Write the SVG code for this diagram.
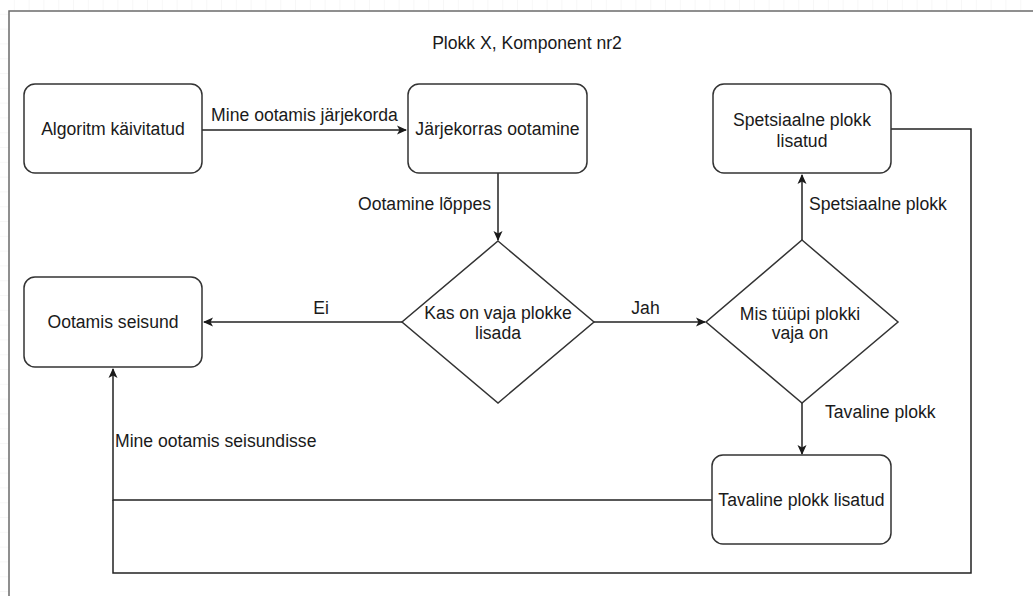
<svg xmlns="http://www.w3.org/2000/svg" width="1033" height="596" viewBox="0 0 1033 596">
<defs>
<pattern id="grid" width="14.8" height="14.8" patternUnits="userSpaceOnUse">
<path d="M14.8 0V14.8H0" fill="none" stroke="#efefef" stroke-width="1"/>
</pattern>
<marker id="arr" viewBox="0 0 10 10" refX="9" refY="5" markerWidth="10" markerHeight="10" markerUnits="userSpaceOnUse" orient="auto">
<path d="M0 0.5L10 5L0 9.5L2.5 5Z" fill="#1a1a1a"/>
</marker>
</defs>
<style>
.node{fill:#fff;stroke:#333;stroke-width:1.5}
.edge{fill:none;stroke:#222;stroke-width:1.5}
text{font-family:"Liberation Sans",Arial,sans-serif;font-size:17.6px;fill:#1a1a1a}
.c{text-anchor:middle}
</style>
<rect width="1033" height="596" fill="#fff"/>
<rect width="1033" height="596" fill="url(#grid)"/>
<rect x="9" y="11" width="1040" height="600" fill="#fff" stroke="#6b6b6b" stroke-width="1.5"/>
<text id="title" class="c" x="527" y="49">Plokk X, Komponent nr2</text>
<g id="connectors">
<path class="edge" d="M202 130H406" marker-end="url(#arr)"/>
<path class="edge" d="M498 173V240" marker-end="url(#arr)"/>
<path class="edge" d="M402 322H204" marker-end="url(#arr)"/>
<path class="edge" d="M594 322H705" marker-end="url(#arr)"/>
<path class="edge" d="M802 240V175" marker-end="url(#arr)"/>
<path class="edge" d="M802 403V454" marker-end="url(#arr)"/>
<path class="edge" d="M712 500H113V369" marker-end="url(#arr)"/>
<path class="edge" d="M891 129H971V573H113V500"/>
<text x="304.5" y="121" class="c">Mine ootamis järjekorda</text>
<text x="424.5" y="210" class="c">Ootamine lõppes</text>
<text x="321" y="314" class="c">Ei</text>
<text x="645.5" y="314" class="c">Jah</text>
<text x="809" y="210">Spetsiaalne plokk</text>
<text x="825" y="418">Tavaline plokk</text>
<text x="115" y="447">Mine ootamis seisundisse</text>
</g>
<g id="n1"><rect class="node" x="24" y="84" width="178" height="89" rx="11"/><text class="c" x="113" y="135">Algoritm käivitatud</text></g>
<g id="n2"><rect class="node" x="408" y="84" width="179" height="89" rx="11"/><text class="c" x="497.5" y="135">Järjekorras ootamine</text></g>
<g id="n3"><rect class="node" x="713" y="84" width="178" height="89" rx="11"/><text class="c" x="802" y="126">Spetsiaalne plokk</text><text class="c" x="802" y="147">lisatud</text></g>
<g id="n4"><rect class="node" x="24" y="277" width="178" height="90" rx="11"/><text class="c" x="113" y="328">Ootamis seisund</text></g>
<g id="n5"><rect class="node" x="712" y="455" width="179" height="89" rx="11"/><text class="c" x="801.5" y="506">Tavaline plokk lisatud</text></g>
<g id="d1"><path class="node" d="M498 241L594 322L498 403L402 322Z"/><text class="c" x="498" y="319">Kas on vaja plokke</text><text class="c" x="498" y="339">lisada</text></g>
<g id="d2"><path class="node" d="M802 240L898 322L802 403L706 322Z"/><text class="c" x="800" y="320">Mis tüüpi plokki</text><text class="c" x="800" y="339">vaja on</text></g>
</svg>
